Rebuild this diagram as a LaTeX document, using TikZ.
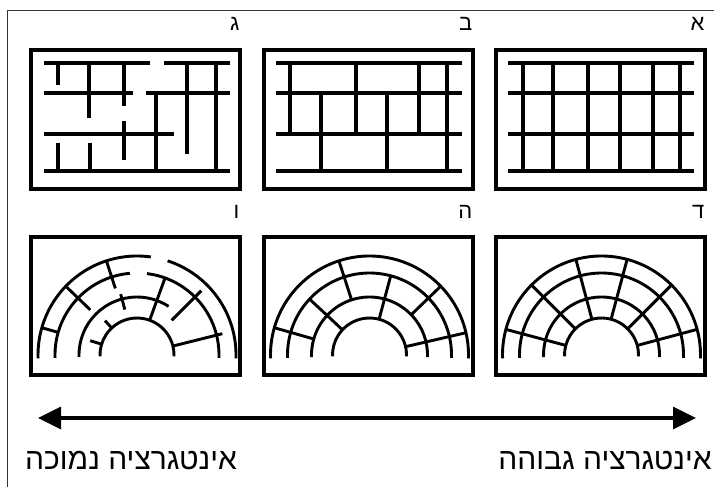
\documentclass[tikz,border=0pt]{standalone}
\usepackage{fontspec}
\newfontfamily\hebfont[Script=Hebrew]{Liberation Sans}
\TeXXeTstate=1
\usepackage{tikz}
\usetikzlibrary{arrows.meta, positioning}
\tikzstyle{panel} = [rectangle, draw=black, line width=3.2pt, inner sep=0pt, minimum width=209pt]
\tikzstyle{bar} = [draw=black, line width=3.1pt]
\tikzstyle{ring} = [draw=black, line width=2.9pt]
\tikzstyle{letter} = [font=\hebfont\fontsize{22}{24}\selectfont, inner sep=0pt]
\tikzstyle{caption} = [font=\hebfont\fontsize{30}{32}\selectfont, inner sep=0pt, anchor=base]
\tikzstyle{arrow} = [line width=3pt, {Triangle[length=23pt,width=22pt]}-{Triangle[length=23pt,width=22pt]}]

\begin{document}
\begin{tikzpicture}[x=1pt, y=1pt]
\useasboundingbox (0,0) rectangle (714,487);

% Frame
\draw[line width=0.8pt, black!80] (7,0) -- (7,477) -- (714,477);

% Panels
\node (boxA) [panel, minimum height=139pt] at (600.5,367.5) {};
\node (boxB) [panel, minimum height=139pt] at (368.5,367.5) {};
\node (boxC) [panel, minimum height=139pt] at (135.5,367.5) {};
\node (boxD) [panel, minimum height=138pt] at (600.5,181) {};
\node (boxE) [panel, minimum height=138pt] at (368.5,181) {};
\node (boxF) [panel, minimum height=138pt] at (135.5,181) {};

\node (labA) [letter, above left=18pt and 2pt of boxA.north east] {א};
\node (labB) [letter, above left=18pt and 2pt of boxB.north east] {ב};
\node (labC) [letter, above left=18pt and 2pt of boxC.north east] {ג};
\node (labD) [letter, above left=17pt and 2pt of boxD.north east] {ד};
\node (labE) [letter, above left=17pt and 2pt of boxE.north east] {ה};
\node (labF) [letter, above left=17pt and 2pt of boxF.north east] {ו};

% Grid A
\foreach \y in {424,394,353,316}
  \draw[bar] (508,\y) -- (694,\y);
\foreach \x in {523,553,588,620,653,680}
  \draw[bar] (\x,424) -- (\x,316);

% Grid B
\foreach \y in {424,394,353,316}
  \draw[bar] (276,\y) -- (462,\y);
\foreach \x/\ya/\yb in {290/424/353, 356/424/353, 419/424/353, 447/424/316, 321/394/316, 387/394/316}
  \draw[bar] (\x,\ya) -- (\x,\yb);

% Grid C
\foreach \xa/\xb/\y in {44/150/424, 164/230/424, 44/133/394, 146/230/394, 44/174/353, 44/230/316}
  \draw[bar] (\xa,\y) -- (\xb,\y);
\foreach \x/\ya/\yb in {58/424/402, 89/424/369, 124/424/381, 187/424/333, 216/424/316, 156/394/316, 124/366/327, 58/344/316, 90/344/316}
  \draw[bar] (\x,\ya) -- (\x,\yb);

% Arches
\coordinate (cD) at (601.5,132);
\coordinate (cE) at (369.5,132);
\coordinate (cF) at (137,132);

\foreach \r in {37,58,82,99}
  \draw[ring] ([shift={(-2:\r pt)}]cD) arc[start angle=-2, end angle=182, radius=\r pt];
\foreach \a in {15,45,...,165}
  \draw[ring] ([shift={(\a:37pt)}]cD) -- ([shift={(\a:99pt)}]cD);

\foreach \r in {37,58,82,99}
  \draw[ring] ([shift={(-2:\r pt)}]cE) arc[start angle=-2, end angle=182, radius=\r pt];
\foreach \a/\ri/\ro in {164/58/99, 137/37/82, 108/58/99, 75/37/82, 44/58/99, 13/37/99}
  \draw[ring] ([shift={(\a:\ri pt)}]cE) -- ([shift={(\a:\ro pt)}]cE);

\foreach \r/\s/\e in {99/-2/72, 99/82/182, 82/-2/83, 82/95/182, 58/57/182, 37/-2/182}
  \draw[ring] ([shift={(\s:\r pt)}]cF) arc[start angle=\s, end angle=\e, radius=\r pt];
\foreach \a/\ri/\ro in {164/82/99, 136/65/99, 108/70/99, 105/47/63, 133/37/47, 163/37/49, 70/37/82, 45/49/91, 14/37/88}
  \draw[ring] ([shift={(\a:\ri pt)}]cF) -- ([shift={(\a:\ro pt)}]cF);

% Axis
\coordinate (low) at (38,69);
\coordinate (high) at (696,69);
\draw[arrow] (low) -- (high);

\node (lowtext) [caption] at (131,18) {\beginR אינטגרציה נמוכה\endR};
\node (hightext) [caption] at (605,18) {\beginR אינטגרציה גבוהה\endR};

\end{tikzpicture}
\end{document}
